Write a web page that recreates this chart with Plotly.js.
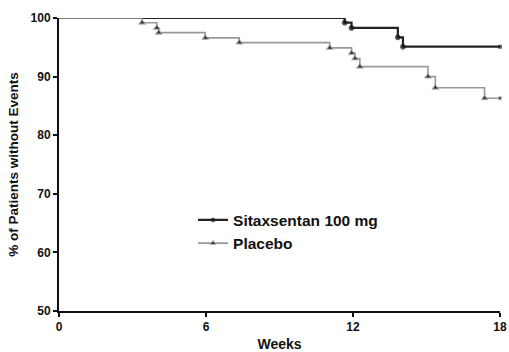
<!DOCTYPE html>
<html>
<head>
<meta charset="utf-8">
<script src="https://cdn.plot.ly/plotly-3.0.1.min.js"></script>
<style>
  html, body { margin: 0; padding: 0; background: #fff; }
  #chart { width: 509px; height: 352px; }
</style>
</head>
<body>
<div id="chart"></div>
<script>
// Kaplan-Meier event-free curves (weeks vs % of patients without events)
var sitaxWeeks = [0, 11.66, 11.94, 13.83, 14.04, 18];
var sitaxPct   = [100, 99.2, 98.3, 96.7, 95.1, 95.1];

var placeboWeeks = [0, 3.39, 3.99, 4.07, 5.97, 7.36, 11.05, 11.94, 12.08, 12.28, 15.06, 15.36, 17.37, 18];
var placeboPct   = [100, 99.2, 98.3, 97.5, 96.6, 95.8, 94.9, 94.0, 93.1, 91.7, 90.0, 88.1, 86.3, 86.3];

var xTicks = [0, 6, 12, 18];
var yTicks = [50, 60, 70, 80, 90, 100];

// event markers on every step; none at time 0, a small dot at the end of follow-up
function markerSizes(n, size) {
  var s = [];
  for (var i = 0; i < n; i++) s.push(i === 0 ? 0 : (i === n - 1 ? 3 : size));
  return s;
}
function markerSymbols(n, sym) {
  var s = [];
  for (var i = 0; i < n; i++) s.push(i === n - 1 ? 'square' : sym);
  return s;
}

var family = 'Liberation Sans, Arial, sans-serif';

var traces = [
  {
    x: sitaxWeeks, y: sitaxPct, name: 'Sitaxsentan 100 mg',
    mode: 'lines+markers', type: 'scatter',
    line: { shape: 'hv', color: '#222', width: 2.2 },
    marker: { color: '#111', size: markerSizes(sitaxWeeks.length, 5), symbol: markerSymbols(sitaxWeeks.length, 'circle') },
    cliponaxis: false
  },
  {
    x: placeboWeeks, y: placeboPct, name: 'Placebo',
    mode: 'lines+markers', type: 'scatter',
    line: { shape: 'hv', color: '#999', width: 1.6 },
    marker: { color: '#111', size: markerSizes(placeboWeeks.length, 6), symbol: markerSymbols(placeboWeeks.length, 'triangle-up') },
    cliponaxis: false
  }
];

var layout = {
  width: 509, height: 352,
  margin: { l: 59, r: 9, t: 18, b: 41 },
  paper_bgcolor: '#fff', plot_bgcolor: '#fff',
  showlegend: true,
  legend: {
    x: 0.304, y: 0.27, xanchor: 'left', yanchor: 'middle',
    bgcolor: 'rgba(0,0,0,0)',
    font: { family: family, size: 15.5, color: '#111', weight: 'bold' },
    tracegroupgap: 8, itemwidth: 30
  },
  xaxis: {
    range: [0, 18], tickvals: xTicks, ticktext: xTicks.map(String),
    showgrid: false, zeroline: false,
    showline: true, linecolor: '#111', linewidth: 2,
    ticks: 'outside', ticklen: 4, tickwidth: 2, tickcolor: '#111',
    tickfont: { family: family, size: 12, color: '#111', weight: 'bold' },
    title: { text: 'Weeks', font: { family: family, size: 14, color: '#111', weight: 'bold' }, standoff: 9 },
    automargin: false
  },
  yaxis: {
    range: [50, 100], tickvals: yTicks, ticktext: yTicks.map(String),
    showgrid: false, zeroline: false,
    showline: true, linecolor: '#111', linewidth: 2,
    ticks: 'outside', ticklen: 4, tickwidth: 2, tickcolor: '#111',
    tickfont: { family: family, size: 12, color: '#111', weight: 'bold' },
    title: { text: '% of Patients without Events', font: { family: family, size: 13.5, color: '#111', weight: 'bold' }, standoff: 9 },
    automargin: false
  }
};

Plotly.newPlot('chart', traces, layout, { displayModeBar: false, staticPlot: true });
</script>
</body>
</html>
